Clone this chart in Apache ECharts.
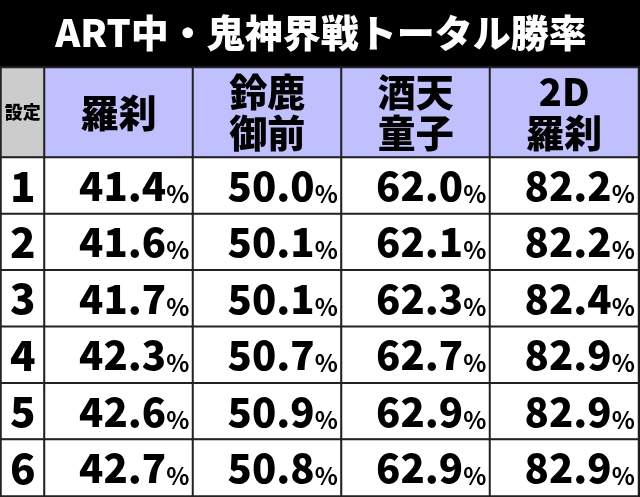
<!DOCTYPE html>
<html>
<head>
    <meta charset="utf-8">
    <title>ART中・鬼神界戦トータル勝率</title>
    <script src="https://cdn.jsdelivr.net/npm/echarts@6/dist/echarts.min.js"></script>
    <style>
        html, body { margin: 0; padding: 0; background: #000; }
        #main { width: 640px; height: 497px; }
    </style>
</head>
<body>
    <div id="main"></div>
    <script>
        var titleText = 'ART中・鬼神界戦トータル勝率';
        var cornerLabel = '設定';
        var settings = ['1', '2', '3', '4', '5', '6'];
        var columns = ['羅刹', '鈴鹿\n御前', '酒天\n童子', '2D\n羅刹'];
        var rasetsu = [41.4, 41.6, 41.7, 42.3, 42.6, 42.7];
        var suzuka = [50.0, 50.1, 50.1, 50.7, 50.9, 50.8];
        var shuten = [62.0, 62.1, 62.3, 62.7, 62.9, 62.9];
        var rasetsu2d = [82.2, 82.2, 82.4, 82.9, 82.9, 82.9];

        var font = '"Noto Sans CJK JP"';
        var lineStyle = { borderColor: '#222', borderWidth: 2 };

        function axis(type, data, inverse) {
            return { type: 'category', data: data, inverse: inverse, show: false, gridIndex: type };
        }

        // one heatmap per table block, so the first column and header row can have their own size
        function block(gridIndex, data, color, label) {
            return {
                type: 'heatmap',
                xAxisIndex: gridIndex,
                yAxisIndex: gridIndex,
                data: data,
                silent: true,
                itemStyle: Object.assign({ color: color }, lineStyle),
                label: Object.assign({ show: true, fontFamily: font, color: '#000' }, label)
            };
        }

        var valueCells = [];
        [rasetsu, suzuka, shuten, rasetsu2d].forEach(function (values, col) {
            values.forEach(function (v, row) {
                valueCells.push([col, row, v]);
            });
        });

        var option = {
            animation: false,
            backgroundColor: '#000',
            title: {
                text: titleText,
                left: 316,
                textAlign: 'center',
                top: 3,
                textStyle: { color: '#fff', fontFamily: font, fontWeight: 900, fontSize: 38, lineHeight: 50 }
            },
            grid: [
                { left: 1, top: 67.5, width: 43.5, height: 90 },
                { left: 44.5, top: 67.5, width: 594, height: 90 },
                { left: 1, top: 157.5, width: 43.5, height: 338.5 },
                { left: 44.5, top: 157.5, width: 594, height: 338.5 }
            ],
            xAxis: [
                axis(0, [cornerLabel]),
                axis(1, columns),
                axis(2, ['設定']),
                axis(3, columns)
            ],
            yAxis: [
                axis(0, ['head']),
                axis(1, ['head']),
                axis(2, settings, true),
                axis(3, settings, true)
            ],
            series: [
                block(0, [[0, 0, 0]], '#cccccc', {
                    formatter: cornerLabel, fontSize: 18, fontWeight: 900
                }),
                block(1, columns.map(function (c, i) { return [i, 0, 0]; }), '#c0c0ff', {
                    formatter: function (p) { return columns[p.value[0]]; },
                    fontSize: 38, fontWeight: 900, lineHeight: 41
                }),
                block(2, settings.map(function (s, i) { return [0, i, 0]; }), '#fff', {
                    formatter: function (p) { return settings[p.value[1]]; },
                    fontSize: 42, fontWeight: 900
                }),
                block(3, valueCells, '#fff', {
                    position: 'insideRight',
                    distance: 5,
                    formatter: function (p) {
                        return '{n|' + p.value[2].toFixed(1) + '}{p|%}';
                    },
                    rich: {
                        n: { fontFamily: font, fontSize: 40, fontWeight: 900, color: '#000' },
                        p: { fontFamily: font, fontSize: 24, fontWeight: 'bold', color: '#000', verticalAlign: 'bottom', padding: [10, 0, 0, 0] }
                    }
                })
            ]
        };

        var myChart = echarts.init(document.getElementById('main'));
        myChart.setOption(option);
    </script>
</body>
</html>
